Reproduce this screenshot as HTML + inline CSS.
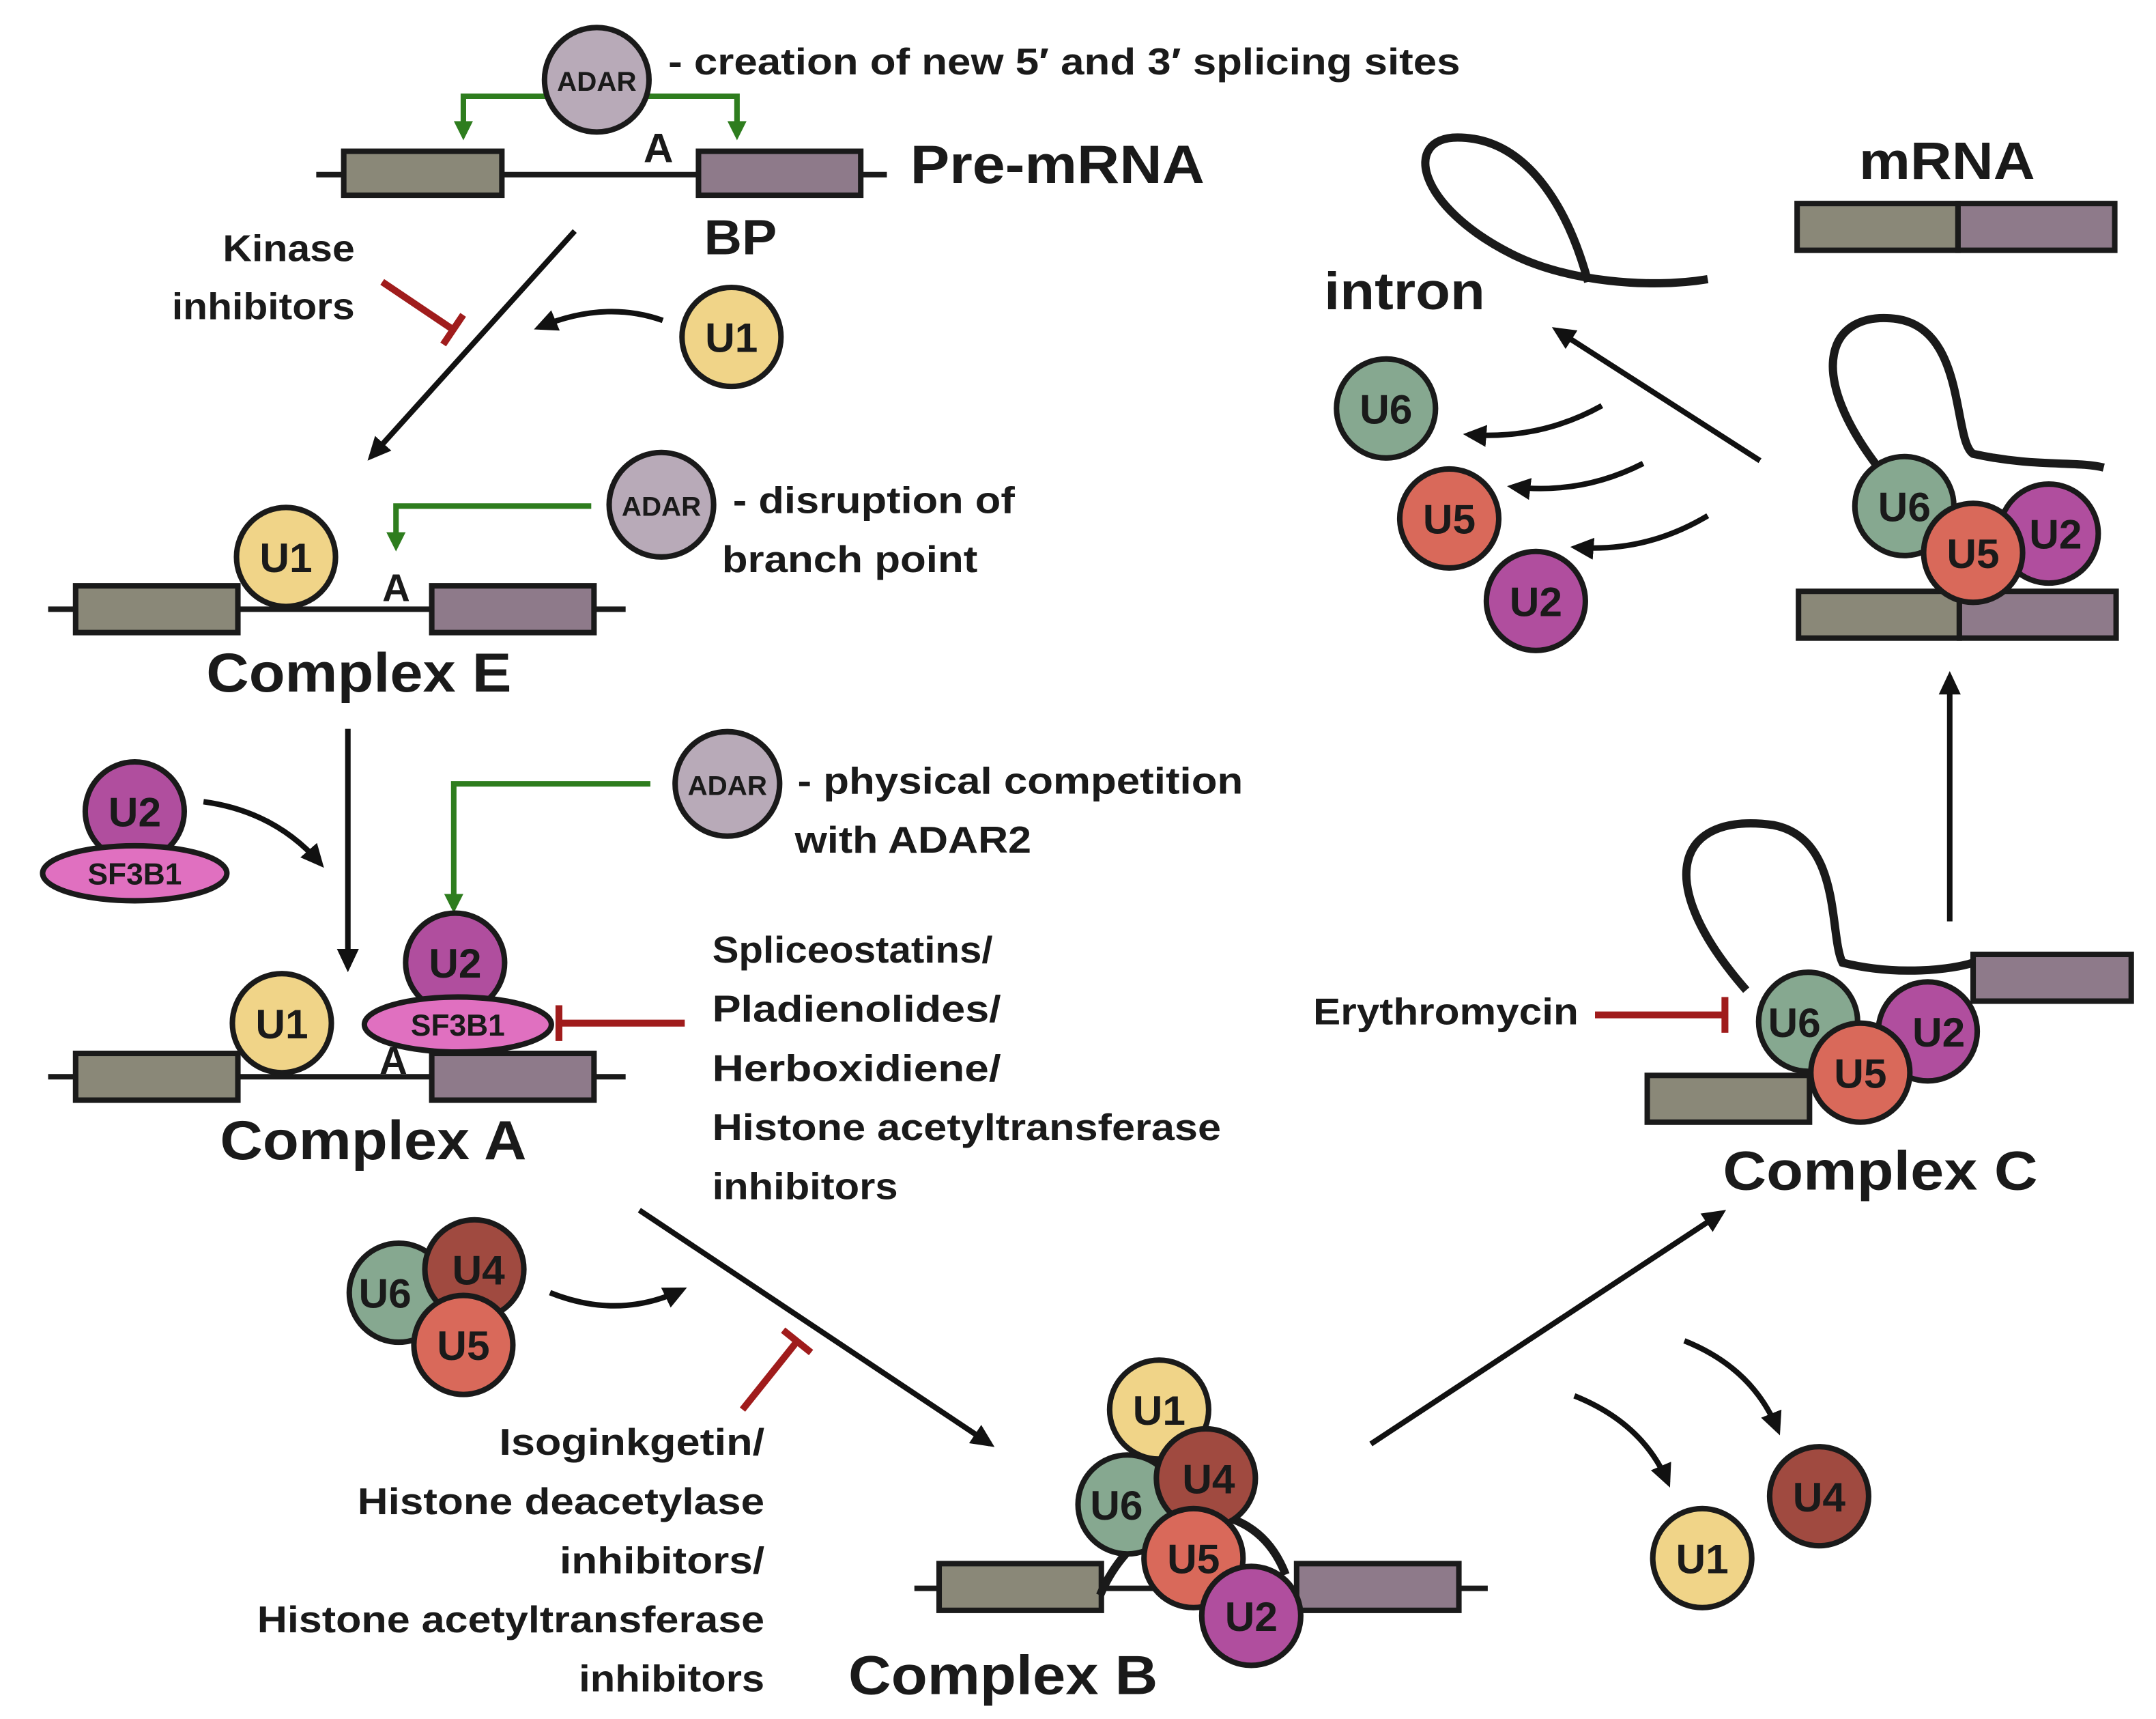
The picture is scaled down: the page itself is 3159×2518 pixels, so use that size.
<!DOCTYPE html>
<html><head><meta charset="utf-8"><style>
html,body{margin:0;padding:0;background:#fff}
svg{display:block}
text{font-family:"Liberation Sans",sans-serif;fill:#1a1a1a;font-weight:bold}
</style></head><body>
<svg width="3159" height="2518" viewBox="0 0 1568 1250" preserveAspectRatio="none" xmlns="http://www.w3.org/2000/svg">
<defs>
<marker id="ak" markerWidth="20" markerHeight="18" refX="13" refY="8" orient="auto" markerUnits="userSpaceOnUse"><path d="M0,0 L17,8 L0,16 z" fill="#111"/></marker>
<marker id="ag" markerWidth="16" markerHeight="16" refX="10" refY="7" orient="auto" markerUnits="userSpaceOnUse"><path d="M0,0 L14,7 L0,14 z" fill="#2e7d1e"/></marker>
<marker id="bar" markerWidth="8" markerHeight="28" refX="4" refY="14" orient="auto" markerUnits="userSpaceOnUse"><rect x="1" y="1" width="5" height="26" fill="#a01c1c"/></marker>
</defs>
<g stroke="#1a1a1a" stroke-width="4" fill="none">
<line x1="230" y1="127" x2="645" y2="127"/>
<rect x="250" y="110" width="115" height="32" fill="#8a8878"/>
<rect x="508" y="110" width="118" height="32" fill="#8e7a8a"/>
<line x1="35" y1="443" x2="455" y2="443"/>
<rect x="55" y="426" width="118" height="34" fill="#8a8878"/>
<rect x="314" y="426" width="118" height="34" fill="#8e7a8a"/>
<line x1="35" y1="783" x2="455" y2="783"/>
<rect x="55" y="766" width="118" height="34" fill="#8a8878"/>
<rect x="314" y="766" width="118" height="34" fill="#8e7a8a"/>
<line x1="665" y1="1155" x2="1082" y2="1155"/>
<rect x="683" y="1137" width="118" height="34" fill="#8a8878"/>
<rect x="943" y="1137" width="118" height="34" fill="#8e7a8a"/>
<path d="M800,1160 C830,1090 910,1080 935,1145" stroke-width="6"/>
<path d="M1270,720 C1200,640 1220,590 1290,600 C1340,610 1330,680 1340,700 C1380,710 1420,705 1435,700" stroke-width="6"/>
<rect x="1198" y="782" width="118" height="34" fill="#8a8878"/>
<rect x="1435" y="694" width="115" height="34" fill="#8e7a8a"/>
<rect x="1307" y="148" width="117" height="34" fill="#8a8878"/>
<rect x="1424" y="148" width="114" height="34" fill="#8e7a8a"/>
<path d="M1370,345 C1310,270 1330,225 1380,232 C1430,240 1420,320 1435,330 C1480,340 1510,335 1530,340" stroke-width="6"/>
<rect x="1308" y="430" width="117" height="34" fill="#8a8878"/>
<rect x="1425" y="430" width="114" height="34" fill="#8e7a8a"/>
<path d="M1155,205 C1140,150 1110,100 1060,100 C1020,100 1030,150 1100,185 C1140,205 1200,210 1242,203" stroke-width="6"/>
</g>
<g stroke="#111" stroke-width="4" fill="none" marker-end="url(#ak)">
<line x1="418" y1="168" x2="270" y2="332"/>
<path d="M482,233 Q440,218 392,238"/>
<line x1="253" y1="530" x2="253" y2="703"/>
<path d="M148,583 Q200,590 233,628"/>
<line x1="465" y1="880" x2="720" y2="1050"/>
<path d="M400,940 Q450,960 496,938"/>
<line x1="997" y1="1050" x2="1252" y2="882"/>
<path d="M1145,1015 Q1195,1035 1213,1078"/>
<path d="M1225,975 Q1275,995 1293,1040"/>
<line x1="1418" y1="670" x2="1418" y2="492"/>
<line x1="1280" y1="335" x2="1132" y2="240"/>
<path d="M1165,295 Q1120,320 1068,316"/>
<path d="M1195,337 Q1150,360 1100,354"/>
<path d="M1242,375 Q1197,402 1146,398"/>
</g>
<g stroke="#2e7d1e" stroke-width="4" fill="none" marker-end="url(#ag)">
<path d="M400,70 L337,70 L337,98"/>
<path d="M470,70 L536,70 L536,98"/>
<path d="M430,368 L288,368 L288,397"/>
<path d="M473,570 L330,570 L330,660"/>
</g>
<g stroke="#a01c1c" stroke-width="5" fill="none" marker-end="url(#bar)">
<line x1="278" y1="205" x2="330" y2="240"/>
<line x1="498" y1="744" x2="406" y2="744"/>
<line x1="540" y1="1025" x2="580" y2="975"/>
<line x1="1160" y1="738" x2="1255" y2="738"/>
</g>
<g stroke="#1a1a1a" stroke-width="4">
<circle cx="434" cy="58" r="38" fill="#b8aab8"/>
<circle cx="481" cy="367" r="38" fill="#b8aab8"/>
<circle cx="529" cy="570" r="38" fill="#b8aab8"/>
<circle cx="532" cy="245" r="36" fill="#f0d488"/>
<circle cx="208" cy="405" r="36" fill="#f0d488"/>
<circle cx="98" cy="590" r="36" fill="#b04e9e"/>
<ellipse cx="98" cy="635" rx="67" ry="20" fill="#e070c0"/>
<circle cx="205" cy="744" r="36" fill="#f0d488"/>
<circle cx="331" cy="700" r="36" fill="#b04e9e"/>
<ellipse cx="333" cy="745" rx="68" ry="20" fill="#e070c0"/>
<circle cx="290" cy="940" r="36" fill="#86a890"/>
<circle cx="345" cy="923" r="36" fill="#a04a40"/>
<circle cx="337" cy="978" r="36" fill="#d9695a"/>
<circle cx="843" cy="1025" r="36" fill="#f0d488"/>
<circle cx="820" cy="1094" r="36" fill="#86a890"/>
<circle cx="877" cy="1075" r="36" fill="#a04a40"/>
<circle cx="868" cy="1133" r="36" fill="#d9695a"/>
<circle cx="910" cy="1175" r="36" fill="#b04e9e"/>
<circle cx="1238" cy="1133" r="36" fill="#f0d488"/>
<circle cx="1323" cy="1088" r="36" fill="#a04a40"/>
<circle cx="1315" cy="743" r="36" fill="#86a890"/>
<circle cx="1402" cy="750" r="36" fill="#b04e9e"/>
<circle cx="1353" cy="780" r="36" fill="#d9695a"/>
<circle cx="1385" cy="368" r="36" fill="#86a890"/>
<circle cx="1490" cy="388" r="36" fill="#b04e9e"/>
<circle cx="1435" cy="402" r="36" fill="#d9695a"/>
<circle cx="1008" cy="297" r="36" fill="#86a890"/>
<circle cx="1054" cy="377" r="36" fill="#d9695a"/>
<circle cx="1117" cy="437" r="36" fill="#b04e9e"/>
</g>
<g font-size="30" text-anchor="middle">
<text x="434" y="66" font-size="20">ADAR</text>
<text x="481" y="375" font-size="20">ADAR</text>
<text x="529" y="578" font-size="20">ADAR</text>
<text x="532" y="256">U1</text>
<text x="208" y="416">U1</text>
<text x="98" y="601">U2</text>
<text x="98" y="643" font-size="22">SF3B1</text>
<text x="205" y="755">U1</text>
<text x="331" y="711">U2</text>
<text x="333" y="753" font-size="22">SF3B1</text>
<text x="280" y="951">U6</text>
<text x="348" y="934">U4</text>
<text x="337" y="989">U5</text>
<text x="843" y="1036">U1</text>
<text x="812" y="1105">U6</text>
<text x="879" y="1086">U4</text>
<text x="868" y="1144">U5</text>
<text x="910" y="1186">U2</text>
<text x="1238" y="1144">U1</text>
<text x="1323" y="1099">U4</text>
<text x="1305" y="754">U6</text>
<text x="1410" y="761">U2</text>
<text x="1353" y="791">U5</text>
<text x="1385" y="379">U6</text>
<text x="1495" y="399">U2</text>
<text x="1435" y="413">U5</text>
<text x="1008" y="308">U6</text>
<text x="1054" y="388">U5</text>
<text x="1117" y="448">U2</text>
</g>
<g font-size="27" lengthAdjust="spacingAndGlyphs">
<text x="486" y="54" textLength="576" lengthAdjust="spacingAndGlyphs">- creation of new 5′ and 3′ splicing sites</text>
<text x="468" y="118" font-size="30">A</text>
<text x="512" y="185" font-size="36" textLength="53" lengthAdjust="spacingAndGlyphs">BP</text>
<text x="662" y="133" font-size="39" textLength="214" lengthAdjust="spacingAndGlyphs">Pre-mRNA</text>
<text x="162" y="190" textLength="96" lengthAdjust="spacingAndGlyphs">Kinase</text>
<text x="125" y="232" textLength="133" lengthAdjust="spacingAndGlyphs">inhibitors</text>
<text x="278" y="437" font-size="28">A</text>
<text x="533" y="373" textLength="205" lengthAdjust="spacingAndGlyphs">- disruption of</text>
<text x="525" y="416" textLength="186" lengthAdjust="spacingAndGlyphs">branch point</text>
<text x="150" y="503" font-size="40" textLength="222" lengthAdjust="spacingAndGlyphs">Complex E</text>
<text x="276" y="781" font-size="28">A</text>
<text x="580" y="577" textLength="324" lengthAdjust="spacingAndGlyphs">- physical competition</text>
<text x="578" y="620" textLength="172" lengthAdjust="spacingAndGlyphs">with ADAR2</text>
<text x="518" y="700" textLength="204" lengthAdjust="spacingAndGlyphs">Spliceostatins/</text>
<text x="518" y="743" textLength="210" lengthAdjust="spacingAndGlyphs">Pladienolides/</text>
<text x="518" y="786" textLength="210" lengthAdjust="spacingAndGlyphs">Herboxidiene/</text>
<text x="518" y="829" textLength="370" lengthAdjust="spacingAndGlyphs">Histone acetyltransferase</text>
<text x="518" y="872" textLength="135" lengthAdjust="spacingAndGlyphs">inhibitors</text>
<text x="160" y="843" font-size="40" textLength="223" lengthAdjust="spacingAndGlyphs">Complex A</text>
<text x="363" y="1058" textLength="193" lengthAdjust="spacingAndGlyphs">Isoginkgetin/</text>
<text x="260" y="1101" textLength="296" lengthAdjust="spacingAndGlyphs">Histone deacetylase</text>
<text x="407" y="1144" textLength="149" lengthAdjust="spacingAndGlyphs">inhibitors/</text>
<text x="187" y="1187" textLength="369" lengthAdjust="spacingAndGlyphs">Histone acetyltransferase</text>
<text x="421" y="1230" textLength="135" lengthAdjust="spacingAndGlyphs">inhibitors</text>
<text x="617" y="1232" font-size="40" textLength="225" lengthAdjust="spacingAndGlyphs">Complex B</text>
<text x="955" y="745" textLength="193" lengthAdjust="spacingAndGlyphs">Erythromycin</text>
<text x="1253" y="865" font-size="40" textLength="229" lengthAdjust="spacingAndGlyphs">Complex C</text>
<text x="1352" y="130" font-size="38" textLength="128" lengthAdjust="spacingAndGlyphs">mRNA</text>
<text x="963" y="225" font-size="38" textLength="117" lengthAdjust="spacingAndGlyphs">intron</text>
</g>
</svg>
</body></html>
